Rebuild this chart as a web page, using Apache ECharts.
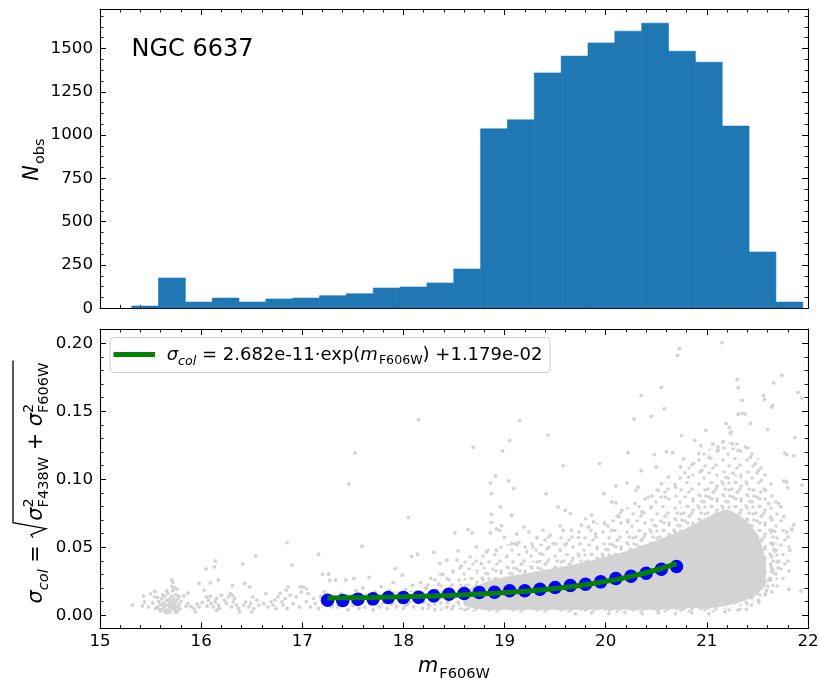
<!DOCTYPE html>
<html><head><meta charset="utf-8">
<script src="https://cdn.jsdelivr.net/npm/echarts@6/dist/echarts.min.js"></script>
<style>html,body{margin:0;padding:0;background:#fff}#c{width:819px;height:684px}</style>
</head><body><div id="c"></div>
<script>
// ---------------- data ----------------
const binEdges = [15.313,15.5784,15.8438,16.1092,16.3746,16.6400,16.9054,17.1708,17.4362,17.7016,17.9670,18.2324,18.4978,18.7632,19.0286,19.2940,19.5594,19.8248,20.0902,20.3556,20.6210,20.8864,21.1518,21.4172,21.6826,21.9480];
const binCounts = [13,175,36,59,36,54,59,73,84,117,123,146,227,1036,1088,1359,1456,1532,1600,1646,1484,1421,1052,325,36];

const xTicks = [15,16,17,18,19,20,21,22];
const yTopTicks = [0,250,500,750,1000,1250,1500];
const yBotTicks = [0.00,0.05,0.10,0.15,0.20];

// binned medians (blue) and fit curve (green)
const medMag = [17.25,17.40,17.55,17.70,17.85,18.00,18.15,18.30,18.45,18.60,18.75,18.90,19.05,19.20,19.35,19.50,19.65,19.80,19.95,20.10,20.25,20.40,20.55,20.70];
const medSig = [0.0110,0.0108,0.0118,0.0120,0.0130,0.0130,0.0132,0.0142,0.0154,0.0159,0.0167,0.0169,0.0179,0.0179,0.0191,0.0204,0.0218,0.0228,0.0245,0.0270,0.0287,0.0309,0.0338,0.0358];
const fitSig = [0.01262,0.01276,0.01291,0.01309,0.01331,0.01355,0.01384,0.01417,0.01455,0.01500,0.01552,0.01612,0.01682,0.01764,0.01858,0.01968,0.02096,0.02244,0.02417,0.02617,0.02850,0.03120,0.03434,0.03799];

// dense part of the star cloud: sparse outer halo, dense inner halo, solid core
const outerX  = [18.2,18.5,18.8,19.2,19.6,20.0,20.4,20.8,21.1,21.4,21.6,21.75,21.85];
const outerHi = [0.024,0.036,0.048,0.055,0.060,0.070,0.088,0.110,0.126,0.126,0.105,0.080,0.050];
const outerLo = [0.005,0.003,0.002,0.002,0.002,0.002,0.002,0.002,0.002,0.004,0.010,0.020,0.030];
const innerX  = [17.2,17.6,18.0,18.4,18.7,19.0,19.3,19.6,19.9,20.2,20.5,20.8,21.0,21.2,21.4,21.55,21.65,21.72];
const innerHi = [0.015,0.016,0.018,0.021,0.030,0.036,0.040,0.044,0.050,0.058,0.068,0.082,0.095,0.105,0.100,0.085,0.065,0.045];
const innerLo = [0.007,0.007,0.006,0.005,0.003,0.003,0.003,0.003,0.003,0.003,0.003,0.003,0.004,0.005,0.008,0.013,0.020,0.030];
const coreX  = [18.6,18.8,19.0,19.3,19.6,19.9,20.2,20.5,20.8,21.0,21.2,21.35,21.5,21.58];
const coreHi = [0.016,0.024,0.028,0.032,0.036,0.041,0.047,0.055,0.064,0.072,0.078,0.072,0.060,0.042];
const coreLo = [0.007,0.004,0.004,0.004,0.004,0.004,0.004,0.004,0.005,0.005,0.007,0.010,0.015,0.024];

// individual stars outside the dense part
const starsBright = [
[15.32,0.0074],[15.42,0.0069],[15.43,0.0142],[15.44,0.0097],[15.48,0.0061],[15.50,0.0157],[15.54,0.0176],[15.54,0.0135],[15.52,0.009],
[15.57,0.006],[15.58,0.010],[15.59,0.004],[15.60,0.008],[15.61,0.012],[15.62,0.005],[15.63,0.009],[15.64,0.003],[15.64,0.014],[15.65,0.007],
[15.66,0.011],[15.67,0.004],[15.67,0.016],[15.68,0.008],[15.69,0.006],[15.69,0.012],[15.70,0.003],[15.70,0.010],[15.71,0.014],[15.71,0.007],
[15.72,0.005],[15.72,0.018],[15.73,0.009],[15.73,0.012],[15.74,0.004],[15.74,0.007],[15.75,0.015],[15.75,0.010],[15.76,0.006],[15.77,0.012],
[15.77,0.003],[15.78,0.008],[15.79,0.005],[15.80,0.010],[15.68,0.002],[15.62,0.015],[15.66,0.018],[15.71,0.021],[15.72,0.024],[15.71,0.026],
[15.74,0.020],[15.76,0.019],[15.60,0.003],[15.55,0.005],[15.57,0.013],[15.65,0.002],[15.69,0.009],[15.63,0.006],[15.75,0.002],[15.78,0.014]
];
const starsMid = [
[15.83,0.0142],[15.87,0.0162],[15.85,0.0066],[15.87,0.0086],[15.90,0.0061],[15.93,0.0049],[15.96,0.0081],[15.98,0.0061],[15.94,0.0025],[15.98,0.0233],
[16.01,0.0093],[16.03,0.0184],[16.05,0.0135],[16.05,0.0340],[16.07,0.0110],[16.09,0.0140],[16.09,0.0238],[16.10,0.0086],[16.12,0.0061],[16.13,0.0355],
[16.14,0.0399],[16.14,0.0098],[16.15,0.0123],[16.17,0.0257],[16.17,0.0074],[16.18,0.0049],[16.15,0.0037],[16.06,0.0066],[16.20,0.0147],[16.23,0.0110],
[16.25,0.0086],[16.27,0.0135],[16.29,0.0159],[16.31,0.0218],[16.31,0.0147],[16.33,0.0123],[16.35,0.0074],[16.37,0.0049],[16.30,0.0061],[16.32,0.0098],
[16.38,0.0025],[16.41,0.0377],[16.43,0.0233],[16.48,0.0208],[16.42,0.0074],[16.44,0.0098],[16.47,0.0061],[16.49,0.0086],[16.51,0.0135],[16.52,0.0049],
[16.54,0.0434],[16.55,0.0110],[16.57,0.0074],[16.50,0.0025],[16.62,0.0086],[16.64,0.0159],[16.66,0.0061],[16.69,0.0098],[16.71,0.0074],[16.73,0.0110],
[16.74,0.0049],[16.76,0.0135],[16.78,0.0159],[16.80,0.0098],[16.81,0.0074],[16.83,0.0123],[16.84,0.0184],[16.85,0.0049],[16.85,0.0534],[16.86,0.0208],
[16.88,0.0147],[16.90,0.0368],[16.91,0.0086],[16.94,0.0135],[16.97,0.0061],[16.98,0.0208],[16.99,0.0171],[17.01,0.0208],[17.04,0.0098],[17.04,0.0196],
[17.06,0.0159],[17.08,0.0061],[17.11,0.0123],[17.13,0.0086],[17.16,0.0448],[17.16,0.0049],[17.18,0.0135],[17.20,0.0301],[17.20,0.0110],[17.22,0.0171],
[17.26,0.0301],[17.27,0.0255],[17.29,0.0061],[17.31,0.0135],
[17.33,0.0257],[17.35,0.006],[17.38,0.016],[17.41,0.009],[17.43,0.0257],[17.45,0.004],[17.47,0.013],[17.50,0.007],[17.51,0.027],[17.53,0.018],
[17.56,0.005],[17.58,0.010],[17.60,0.020],[17.62,0.006],[17.64,0.015],[17.66,0.0277],[17.67,0.008],[17.70,0.004],[17.72,0.017],[17.74,0.011],
[17.76,0.006],[17.78,0.021],[17.80,0.009],[17.82,0.014],[17.84,0.005],[17.86,0.018],[17.88,0.008],[17.90,0.024],[17.92,0.0343],[17.93,0.006],
[17.95,0.016],[17.97,0.011],[17.99,0.0294],[18.00,0.005],[18.02,0.019],[18.04,0.008],[18.05,0.0718],[18.06,0.014],[18.08,0.0433],[18.09,0.022],
[18.10,0.006],[18.12,0.017],[18.14,0.0448],[18.15,0.1438],[18.15,0.010],[18.17,0.024],[18.19,0.005],[18.21,0.015],[18.23,0.020],[18.25,0.008],
[18.27,0.027],[18.29,0.012],[18.30,0.0463],[18.31,0.004],[18.33,0.018],[18.35,0.023],[18.37,0.009],[18.39,0.030],[18.41,0.014],[18.43,0.006],
[18.45,0.026],[18.47,0.019],[18.49,0.032],[18.51,0.0605],[18.54,0.0473],[18.64,0.0629],[18.68,0.0605],
[17.46,0.0963],[17.52,0.1193],[17.59,0.0507],[18.69,0.1235],[18.86,0.0973],[18.87,0.0894],[18.87,0.0742],[18.91,0.1024],[18.96,0.0796],[18.98,0.1208],
[19.04,0.0987],[19.05,0.1284],[19.07,0.0735],[19.09,0.0931],[19.15,0.1431],[19.41,0.0894],[19.43,0.1325],[19.53,0.0796],[19.58,0.1100],
[18.86,0.0605],[18.92,0.0634],[18.95,0.0624],[18.87,0.0683],[18.97,0.0658],[19.00,0.0573],[19.12,0.0597],[19.14,0.0536],[19.19,0.0649],[19.24,0.0612],
[19.32,0.0573],[19.38,0.0624],[19.45,0.0588],[19.55,0.0658],[19.58,0.0624],[19.60,0.0771],
[18.43,0.0404],[18.36,0.0380],[18.53,0.0404],[18.57,0.0360],[18.66,0.0429],[18.72,0.0502],[18.77,0.0380],[18.82,0.0465],[18.92,0.0478],[19.02,0.0429],
[19.07,0.0527],[19.10,0.0527],[19.22,0.0465],[19.28,0.0502],[19.35,0.0453],[19.42,0.0490],[19.48,0.0527],[19.55,0.0478],[19.61,0.0527]
];
const starsFaint = [
[20.73,0.1960],[21.15,0.2005],[20.71,0.1911],[21.74,0.1764],[21.66,0.1708],[21.30,0.1732],[21.31,0.1673],[21.35,0.1580],[21.90,0.1639],[21.94,0.1597],
[21.56,0.1617],[21.57,0.1587],[21.65,0.1543],[21.64,0.1531],[20.55,0.1676],[20.35,0.1615],[20.58,0.1519],[20.28,0.1443],[20.45,0.1463],[21.31,0.1478],
[21.35,0.1485],[21.38,0.1480],[21.19,0.1409],[21.22,0.1380],[21.24,0.1348],[21.23,0.1335],[21.43,0.1409],[21.60,0.1365],[21.87,0.1306],[21.77,0.1193],
[21.79,0.1180],[21.86,0.1172],[20.75,0.1320],[20.99,0.1360],[21.06,0.1257],[21.16,0.1276],[21.11,0.1237],[20.88,0.1286],[20.94,0.1247],[20.60,0.1203],
[20.66,0.1195],[20.48,0.1181],[20.22,0.1195],[20.35,0.1063],[20.50,0.1090],[19.94,0.1115],[20.30,0.0918],[20.32,0.0943],[20.21,0.0972],[20.10,0.0950],
[19.98,0.0894],[20.06,0.0833],[20.10,0.0826],[19.65,0.0747],[19.76,0.0662],[19.86,0.0736],[19.88,0.0687],[19.80,0.0710],[21.76,0.0987],[21.79,0.0980],
[21.80,0.0938],[21.71,0.0821],[21.73,0.0797],[21.76,0.0723],[21.86,0.0665],[21.84,0.0629],[21.79,0.0612],[21.67,0.0618],[21.65,0.0520],[21.67,0.0471],
[21.71,0.0397],[21.63,0.0373],[21.64,0.0324],[21.81,0.0190],[21.93,0.0178],[21.60,0.0212],[21.59,0.0182],[21.39,0.0042],[21.94,0.0956],[21.84,0.0634],
[21.82,0.0478],
[19.66,0.0624],[19.73,0.0573],[19.83,0.0649],[19.90,0.0597],[19.99,0.0673],[20.06,0.0624],[20.13,0.0723],[20.16,0.0771],[20.22,0.0686],[20.29,0.0821],
[20.36,0.0760],[20.42,0.0869],[20.45,0.0796],[20.52,0.0918],[20.55,0.0967],[20.59,0.0869],[20.62,0.1016],[20.69,0.0943],[20.74,0.1090],[20.77,0.1151],
[20.82,0.1016],[20.87,0.1115],[20.92,0.1188],[20.95,0.1066],[21.02,0.1163],[21.06,0.1257],[21.11,0.1212],[21.16,0.1276],[21.25,0.1261],[21.31,0.1212],
[21.38,0.1237],[21.43,0.1163],[21.48,0.1115],[21.51,0.1066],[21.54,0.0992],[21.58,0.0918],[21.61,0.0821],[21.63,0.0723],[21.64,0.0624],[21.66,0.0527],
[21.64,0.0429],[21.65,0.0331],[21.61,0.0257],[21.58,0.0159],[21.51,0.0110],[21.44,0.0074],[21.31,0.0037],[21.18,0.0025],[21.02,0.0012],[20.85,0.0017],
[20.69,0.0012],[20.52,0.0017],[20.36,0.0012],[20.19,0.0020],[20.03,0.0012],[19.86,0.0017],[19.70,0.0012]
];

// ---------------- text helpers ----------------
const FAM = '"DejaVu Sans"';
const cctx = document.createElement('canvas').getContext('2d');
function fstr(s, it){ return (it ? 'italic ' : '') + s + 'px ' + FAM; }
function meas(t, s, it){ cctx.font = fstr(s, it); return cctx.measureText(t).width; }
function midOff(s){
  cctx.font = fstr(s, false);
  cctx.textBaseline = 'alphabetic'; const a1 = cctx.measureText('H').actualBoundingBoxAscent;
  cctx.textBaseline = 'middle'; const a2 = cctx.measureText('H').actualBoundingBoxAscent;
  cctx.textBaseline = 'alphabetic';
  return a1 - a2;
}
function mkText(p, u){
  return {type:'text', x:u, y:(p.dy||0) - midOff(p.s), silent:true, z:110,
    style:{text:p.t, font:fstr(p.s,p.i), fill:'#000', align:'left', verticalAlign:'middle', textAlign:'left', textVerticalAlign:'middle'}};
}
function layoutMath(pieces){
  let u = 0; const els = []; const marks = {};
  for (const p of pieces){
    if (p.mark){ marks[p.mark] = u; continue; }
    if (p.gap){ u += p.gap; continue; }
    if (p.stack){
      let w = 0;
      for (const q of p.stack){ els.push(mkText(q, u)); w = Math.max(w, meas(q.t, q.s, q.i)); }
      u += w;
    } else { els.push(mkText(p, u)); u += meas(p.t, p.s, p.i); }
  }
  return {els, width:u, marks};
}

const F = 20.8, FS = F*0.7, LF = 18, LFS = LF*0.7;

const xl = layoutMath([{t:'m', s:F, i:true}, {gap:1}, {t:'F606W', s:FS, dy:0.27*F}]);
const yl1 = layoutMath([{t:'N', s:F, i:true}, {gap:1}, {t:'obs', s:FS, dy:0.27*F}]);
const yl2 = layoutMath([
  {t:'σ', s:F, i:true}, {t:'col', s:FS, i:true, dy:0.27*F},
  {t:' = ', s:F},
  {mark:'r0'}, {gap:18}, {mark:'c0'},
  {t:'σ', s:F, i:true}, {stack:[{t:'2', s:FS, dy:-0.45*F}, {t:'F438W', s:FS, dy:0.3*F}]},
  {t:' + ', s:F},
  {t:'σ', s:F, i:true}, {stack:[{t:'2', s:FS, dy:-0.45*F}, {t:'F606W', s:FS, dy:0.3*F}]},
  {gap:2}, {mark:'end'}
]);
(function(){
  const r0 = yl2.marks.r0, e = yl2.marks.end;
  const vTop = -29, vBot = 4;
  yl2.els.push({type:'polyline', silent:true,
    shape:{points:[[r0+1, -9],[r0+4, -11],[r0+10, vBot],[r0+16, vTop],[e, vTop]]},
    style:{stroke:'#000', lineWidth:1.3, fill:null, lineJoin:'miter'}});
})();
const lg = layoutMath([
  {t:'σ', s:LF, i:true}, {t:'col', s:LFS, i:true, dy:0.25*LF},
  {t:' = 2.682e-11·exp(', s:LF},
  {t:'m', s:LF, i:true}, {gap:1}, {t:'F606W', s:LFS, dy:0.22*LF},
  {t:') +1.179e-02', s:LF}
]);

// speckle textures for the halo of the star cloud
function makeTile(size, dots, color){
  const c = document.createElement('canvas'); c.width = size; c.height = size;
  const g = c.getContext('2d'); g.fillStyle = color;
  for (const d of dots){ g.beginPath(); g.arc(d[0], d[1], 1.8, 0, 2*Math.PI); g.fill(); }
  return c;
}
const sparseTile = makeTile(24, [[3,4],[15,2.5],[9,10],[20,9],[4,16],[13,17],[21,19],[8,22],[17,12]], '#d3d3d3');
const denseTile = makeTile(24, [[2,2],[9,3],[16,2.5],[21,6],[5,9],[12,9],[18,12],[3,15],[10,16],[16,19],[21,21],[6,21.5]], '#d3d3d3');

// ---------------- axes helpers ----------------
const black = '#000';
function minorBetween(majors, step, lo, hi){
  const out = [];
  for (let v = lo; v <= hi + 1e-12; v += step){
    const r = Math.round(v*1e6)/1e6;
    if (!majors.some(m => Math.abs(m - r) < 1e-9)) out.push(r);
  }
  return out;
}
const yTopMinor = minorBetween(yTopTicks, 62.5, 0, 1700);
const yBotMinor = minorBetween(yBotTicks, 0.01, 0.0, 0.205);

function xAx(grid, pos, showLabel){
  return {type:'value', gridIndex:grid, position:pos, min:15, max:22, interval:1,
    axisLine:{show:true, onZero:false, lineStyle:{color:black, width:1.1}},
    axisTick:{show:true, inside:true, length:6, lineStyle:{color:black, width:1}},
    minorTick:{show:true, splitNumber:5, length:3.5, lineStyle:{color:black, width:0.9}},
    axisLabel:{show:showLabel, margin:5, fontSize:16.7, color:black, fontFamily:FAM,
      formatter: v => String(Math.round(v))},
    splitLine:{show:false}, minorSplitLine:{show:false}};
}
function yAx(grid, pos, min, max, ticks, fmt, showLabel, minor){
  return {type:'value', gridIndex:grid, position:pos, min:min, max:max, offset:0,
    axisLine:{show:!minor, onZero:false, lineStyle:{color:black, width:1.1}},
    axisTick:{show:true, inside:true, length: minor ? 3.5 : 6, customValues: ticks,
      lineStyle:{color:black, width: minor ? 0.9 : 1}},
    axisLabel:{show:showLabel, customValues: ticks, margin:7, fontSize:16.7, color:black, fontFamily:FAM,
      formatter: fmt},
    splitLine:{show:false}, minorTick:{show:false}};
}
const fTop = v => String(Math.round(v));
const fBot = v => v.toFixed(2);
const yMinTop = 0, yMaxTop = 1728, yMinBot = -0.0098, yMaxBot = 0.2105;

function envelopeSeries(xs, lo, hi, fill, z){
  return {type:'custom', xAxisIndex:2, yAxisIndex:4, clip:true, silent:true,
    data: xs.map((x,i) => [x, lo[i], hi[i]]),
    renderItem: function(params, api){
      if (params.dataIndex !== 0) return null;
      const pts = [];
      for (let i = 0; i < xs.length; i++) pts.push(api.coord([xs[i], lo[i]]));
      for (let i = xs.length-1; i >= 0; i--) pts.push(api.coord([xs[i], hi[i]]));
      return {type:'polygon', shape:{points:pts, smooth:0.15}, style:{fill:fill, stroke:null}};
    }, z:z};
}

const grayPts = starsBright.concat(starsMid, starsFaint);

const option = {
  animation:false,
  backgroundColor:'#fff',
  textStyle:{fontFamily:FAM},
  grid:[
    {left:100, top:9, width:708, height:299.3, outerBoundsMode:'none', containLabel:false},
    {left:100, top:329, width:708, height:299.5, outerBoundsMode:'none', containLabel:false}
  ],
  xAxis:[ xAx(0,'bottom',false), xAx(0,'top',false), xAx(1,'bottom',true), xAx(1,'top',false) ],
  yAxis:[
    yAx(0,'left',yMinTop,yMaxTop,yTopTicks,fTop,true,false),
    yAx(0,'left',yMinTop,yMaxTop,yTopMinor,fTop,false,true),
    yAx(0,'right',yMinTop,yMaxTop,yTopTicks,fTop,false,false),
    yAx(0,'right',yMinTop,yMaxTop,yTopMinor,fTop,false,true),
    yAx(1,'left',yMinBot,yMaxBot,yBotTicks,fBot,true,false),
    yAx(1,'left',yMinBot,yMaxBot,yBotMinor,fBot,false,true),
    yAx(1,'right',yMinBot,yMaxBot,yBotTicks,fBot,false,false),
    yAx(1,'right',yMinBot,yMaxBot,yBotMinor,fBot,false,true)
  ],
  series:[
    {type:'custom', xAxisIndex:0, yAxisIndex:0, clip:true, silent:true,
     data: binCounts.map((c,i) => [binEdges[i], binEdges[i+1], c]),
     encode:{x:[0,1], y:2},
     renderItem: function(params, api){
       const p0 = api.coord([api.value(0), api.value(2)]);
       const p1 = api.coord([api.value(1), 0]);
       return {type:'rect', shape:{x:p0[0], y:p0[1], width:p1[0]-p0[0], height:p1[1]-p0[1]},
               style:{fill:'#1f77b4', stroke:'#1f77b4', lineWidth:0.6}};
     }},
    envelopeSeries(outerX, outerLo, outerHi, {image:sparseTile, repeat:'repeat'}, 1),
    envelopeSeries(innerX, innerLo, innerHi, {image:denseTile, repeat:'repeat'}, 1.5),
    envelopeSeries(coreX, coreLo, coreHi, '#d3d3d3', 1.8),
    {type:'scatter', xAxisIndex:2, yAxisIndex:4, data:grayPts, symbol:'circle', symbolSize:3.8,
     itemStyle:{color:'#d3d3d3', opacity:1}, silent:true, z:2, clip:true},
    {type:'scatter', xAxisIndex:2, yAxisIndex:4, data:medMag.map((m,i)=>[m, medSig[i]]), symbol:'circle', symbolSize:13.5,
     itemStyle:{color:'#0000ff', opacity:1}, silent:true, z:3},
    {type:'line', xAxisIndex:2, yAxisIndex:4, data:medMag.map((m,i)=>[m, fitSig[i]]), showSymbol:false, symbol:'none',
     lineStyle:{color:'#008000', width:5, opacity:1}, silent:true, z:4}
  ],
  graphic:{elements:[
    {type:'text', x:131.5, y:56 - midOff(24), silent:true,
     style:{text:'NGC 6637', font:fstr(24,false), fill:'#000', align:'left', verticalAlign:'middle', textAlign:'left', textVerticalAlign:'middle'}},
    {type:'group', x: 454 - xl.width/2, y: 672, children: xl.els, silent:true},
    {type:'group', x: 38, y: 159.5 + yl1.width/2, rotation: Math.PI/2, children: yl1.els, silent:true},
    {type:'group', x: 42, y: 482 + yl2.width/2, rotation: Math.PI/2, children: yl2.els, silent:true},
    {type:'rect', x:110, y:337.5, shape:{x:0, y:0, width:440, height:35, r:4}, silent:true, z:100,
     style:{fill:'rgba(255,255,255,0.8)', stroke:'#cccccc', lineWidth:1}},
    {type:'line', shape:{x1:113.5, y1:354.5, x2:155, y2:354.5}, silent:true, z:105,
     style:{stroke:'#008000', lineWidth:5}},
    {type:'group', x:166.7, y:360, children: lg.els, silent:true, z:110}
  ]}
};
const chart = echarts.init(document.getElementById('c'), null, {renderer:'canvas'});
chart.setOption(option);
</script>
</body></html>
